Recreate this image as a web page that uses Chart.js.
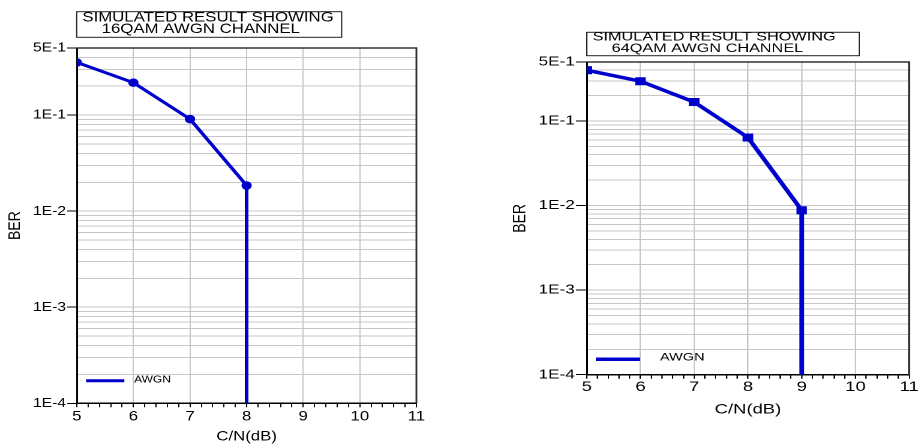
<!DOCTYPE html>
<html><head><meta charset="utf-8">
<script src="https://cdn.jsdelivr.net/npm/chart.js@4"></script>
<style>
html,body{margin:0;padding:0;background:#fff;width:918px;height:447px;overflow:hidden}
.wrap{position:absolute;top:0;height:447px;transform-origin:0 0}
#w1{left:0;width:383px;transform:scaleX(1.2)}
#w2{left:460px;width:347px;transform:scaleX(1.32)}
</style></head><body>
<div class="wrap" id="w1"><canvas id="c1"></canvas></div>
<div class="wrap" id="w2"><canvas id="c2"></canvas></div>
<script>
// ---- data ----
const cnQam16 = [5, 6, 7, 8, 8];
const berQam16 = [0.354, 0.218, 0.091, 0.0185, 1e-6];   // last value: BER falls below plot floor
const cnQam64 = [5, 6, 7, 8, 9, 9];
const berQam64 = [0.40, 0.296, 0.168, 0.064, 0.0088, 1e-6];
const seriesName = 'AWGN';
const xTickLabels = ['5', '6', '7', '8', '9', '10', '11'];
const yTickValues = [1e-4, 1e-3, 1e-2, 1e-1, 0.5];
const yTickLabels = ['1E-4', '1E-3', '1E-2', '1E-1', '5E-1'];
const title16 = ['SIMULATED RESULT SHOWING', '16QAM AWGN CHANNEL'];
const title64 = ['SIMULATED RESULT SHOWING', '64QAM AWGN CHANNEL'];
const axisXTitle = 'C/N(dB)';
const axisYTitle = 'BER';

// ---- helpers ----
const FONT = '"Liberation Sans", Arial, sans-serif';
Chart.defaults.font.family = FONT;
Chart.defaults.color = '#000';

const xGrid = [];
for (let i = 0; i <= 30; i++) xGrid.push(Math.round((5 + i * 0.2) * 10) / 10);
const yGrid = [];
for (let e = -4; e <= -1; e++) for (let m = 1; m <= 9; m++) {
  const v = Number((m * Math.pow(10, e)).toPrecision(3));
  if (v <= 0.5 + 1e-9) yGrid.push(v);
}
const isInt = v => Math.abs(v - Math.round(v)) < 1e-6;
const yLabelIdx = v => yTickValues.findIndex(t => Math.abs(v / t - 1) < 1e-6);

const framePlugin = {
  id: 'frame',
  afterDraw(chart, args, o) {
    const ctx = chart.ctx, a = chart.chartArea;
    ctx.save();
    ctx.strokeStyle = '#333'; ctx.lineWidth = 1.5;
    ctx.beginPath(); ctx.moveTo(a.left, a.top); ctx.lineTo(a.right, a.top); ctx.lineTo(a.right, a.bottom); ctx.stroke();
    // title box
    ctx.lineWidth = 1; ctx.strokeStyle = '#222';
    ctx.strokeRect(o.box[0], o.box[1], o.box[2], o.box[3]);
    ctx.fillStyle = '#000'; ctx.font = o.font; ctx.textBaseline = 'middle'; ctx.textAlign = 'left';
    o.lines.forEach((t, i) => ctx.fillText(t, o.tx[i], o.ty[i]));
    // legend
    const ds = chart.data.datasets[0];
    ctx.strokeStyle = ds.borderColor; ctx.lineWidth = ds.borderWidth;
    ctx.beginPath(); ctx.moveTo(o.leg[0], o.leg[2]); ctx.lineTo(o.leg[1], o.leg[2]); ctx.stroke();
    ctx.font = o.legFont; ctx.fillStyle = '#000';
    ctx.fillText(ds.label, o.leg[3], o.leg[4]);
    ctx.restore();
  }
};

function makeChart(id, cn, ber, p) {
  return new Chart(document.getElementById(id), {
    type: 'line',
    data: {
      datasets: [{
        label: seriesName,
        data: cn.map((x, i) => ({ x: x, y: ber[i] })),
        borderColor: '#0000cc',
        backgroundColor: '#0000cc',
        borderWidth: p.lw,
        pointStyle: p.ps,
        pointRadius: cn.map((x, i) => i === cn.length - 1 ? 0 : p.pr),
        pointHoverRadius: 0,
        tension: 0,
        fill: false
      }]
    },
    options: {
      responsive: true,
      maintainAspectRatio: false,
      animation: false,
      devicePixelRatio: 2,
      events: [],
      layout: { padding: p.pad },
      plugins: {
        legend: { display: false },
        title: { display: false },
        tooltip: { enabled: false },
        frame: p.frame
      },
      scales: {
        x: {
          type: 'linear', min: 5, max: 11,
          afterBuildTicks: s => { s.ticks = xGrid.map(v => ({ value: v })); },
          afterFit: s => { s.height = p.xh; s.paddingLeft = 0; s.paddingRight = 0; },
          ticks: {
            autoSkip: false, maxRotation: 0, minRotation: 0, padding: p.xpad,
            font: { size: 14 }, color: '#000',
            callback: v => isInt(v) ? xTickLabels[Math.round(v) - 5] : ''
          },
          grid: {
            color: c => (c.tick && isInt(c.tick.value)) ? '#c6c6c6' : 'rgba(0,0,0,0)',
            tickColor: '#000', tickLength: 4, lineWidth: 1
          },
          border: { color: '#000', width: 1.5 },
          title: { display: true, text: axisXTitle, font: { size: 14 }, color: '#000', padding: { top: 0, bottom: 2 } }
        },
        y: {
          type: 'logarithmic', min: 1e-4, max: 0.5,
          afterBuildTicks: s => { s.ticks = yGrid.map(v => ({ value: v })); },
          afterFit: s => { s.width = p.yw; s.paddingTop = 0; s.paddingBottom = 0; },
          ticks: {
            autoSkip: false, padding: 1, font: { size: 13 }, color: '#000',
            callback: v => { const i = yLabelIdx(v); return i >= 0 ? yTickLabels[i] : ''; }
          },
          grid: {
            color: '#c6c6c6', lineWidth: 1, tickLength: 8,
            tickColor: c => (c.tick && yLabelIdx(c.tick.value) >= 0) ? '#000' : 'rgba(0,0,0,0)'
          },
          border: { color: '#000', width: 1.5 },
          title: { display: true, text: axisYTitle, font: { size: 14 }, color: '#000', padding: { top: 4, bottom: 0 } }
        }
      }
    },
    plugins: [framePlugin]
  });
}

makeChart('c1', cnQam16, berQam16, {
  lw: 3, ps: 'circle', pr: 2.8,
  pad: { left: 0, right: 36, top: 48, bottom: 0 },
  xh: 43.7, yw: 64, xpad: 1,
  frame: {
    box: [63.9, 11.7, 220.8, 25.6],
    font: '14px ' + FONT,
    lines: title16, tx: [68.6, 84.7], ty: [17.4, 29.2],
    leg: [71.7, 103.6, 380.7, 111.7, 379.5], legFont: '10px ' + FONT
  }
});
makeChart('c2', cnQam64, berQam64, {
  lw: 3.5, ps: 'rect', pr: 3.2,
  pad: { left: 33, right: 6, top: 62, bottom: 27 },
  xh: 45.3, yw: 63, xpad: 0,
  frame: {
    box: [96, 32.3, 206.5, 23.4],
    font: '12.3px ' + FONT,
    lines: title64, tx: [100.5, 114.9], ty: [37, 48.5],
    leg: [103, 136.4, 359.3, 151.5, 357.5], legFont: '11px ' + FONT
  }
});
</script>
</body></html>
